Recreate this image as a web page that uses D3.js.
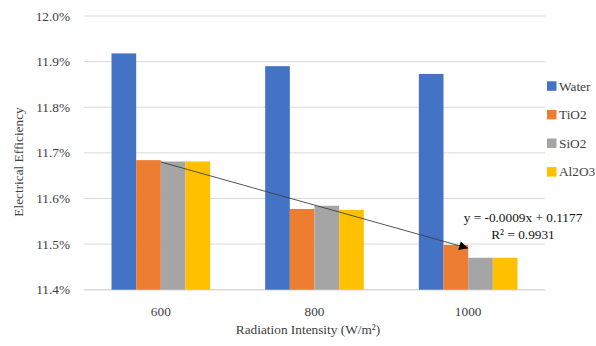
<!DOCTYPE html>
<html>
<head>
<meta charset="utf-8">
<script src="https://cdn.jsdelivr.net/npm/d3@7"></script>
<style>
  body { margin: 0; background: #fff; }
</style>
</head>
<body>
<script>
// chart values
var categories = [600, 800, 1000];
var seriesNames = ['Water', 'TiO2', 'SiO2', 'Al2O3'];
var seriesColors = ['#4472C4', '#ED7D31', '#A5A5A5', '#FFC000'];
var water = [11.918, 11.890, 11.873];
var tio2 = [11.684, 11.577, 11.498];
var sio2 = [11.681, 11.584, 11.470];
var al2o3 = [11.681, 11.575, 11.470];
var yTicks = [11.4, 11.5, 11.6, 11.7, 11.8, 11.9, 12.0];
var trendStart = { cat: 600, value: 11.680 };
var trendEnd = { cat: 1000, value: 11.491 };
var equation = ['y = -0.0009x + 0.1177', 'R² = 0.9931'];

var screen = { width: 596, height: 346 };
var margins = { top: 16, left: 84, right: 51, bottom: 56 };
var fontFamily = 'Liberation Serif';
var fontSize = 13.3;

var values = [water, tio2, sio2, al2o3];
var data = categories.map(function(c, i){
  return { cat: c, vals: seriesNames.map(function(s, j){ return { name: s, value: values[j][i], color: seriesColors[j] }; }) };
});

var svg = d3.select('body').append('svg')
            .attr('width', screen.width)
            .attr('height', screen.height);

var x0 = d3.scaleBand()
           .domain(categories)
           .range([margins.left, screen.width - margins.right])
           .paddingInner(0.358)
           .paddingOuter(0.179);
var x1 = d3.scaleBand()
           .domain(seriesNames)
           .range([0, x0.bandwidth()]);
var yScale = d3.scaleLinear()
               .domain([11.4, 12.0])
               .range([screen.height - margins.bottom - 0.3, margins.top]);

// gridlines
svg.append('g')
   .selectAll('line')
   .data(yTicks)
   .enter()
   .append('line')
   .attr('x1', margins.left)
   .attr('x2', screen.width - margins.right)
   .attr('y1', function(d){ return yScale(d); })
   .attr('y2', function(d){ return yScale(d); })
   .attr('stroke', '#d9d9d9')
   .attr('stroke-width', function(d, i){ return i == 0 ? 1.5 : 1; });

// y tick labels
svg.append('g')
   .selectAll('text')
   .data(yTicks)
   .enter()
   .append('text')
   .attr('x', 70)
   .attr('y', function(d){ return yScale(d) + 4.5; })
   .attr('text-anchor', 'end')
   .text(function(d){ return d.toFixed(1) + '%'; });

// bars
var groups = svg.selectAll('.group')
                .data(data)
                .enter()
                .append('g')
                .classed('group', true)
                .attr('transform', function(d){ return 'translate(' + x0(d.cat) + ',0)'; });
groups.selectAll('rect')
      .data(function(d){ return d.vals; })
      .enter()
      .append('rect')
      .attr('x', function(d){ return x1(d.name); })
      .attr('y', function(d){ return yScale(d.value); })
      .attr('width', x1.bandwidth())
      .attr('height', function(d){ return yScale(11.4) - yScale(d.value); })
      .attr('fill', function(d){ return d.color; });

// x tick labels
svg.append('g')
   .selectAll('text')
   .data(categories)
   .enter()
   .append('text')
   .attr('x', function(d){ return x0(d) + x0.bandwidth() / 2; })
   .attr('y', 315.5)
   .attr('text-anchor', 'middle')
   .text(function(d){ return d; });

// axis titles
svg.append('text')
   .attr('x', 308)
   .attr('y', 334)
   .attr('text-anchor', 'middle')
   .text('Radiation Intensity (W/m²)');

svg.append('text')
   .attr('transform', 'translate(23,162) rotate(-90)')
   .attr('text-anchor', 'middle')
   .text('Electrical Efficiency');

// trend arrow
svg.append('defs').append('marker')
   .attr('id', 'arrow')
   .attr('viewBox', '0 0 10 10')
   .attr('refX', 10)
   .attr('refY', 5)
   .attr('markerWidth', 10)
   .attr('markerHeight', 9)
   .attr('markerUnits', 'userSpaceOnUse')
   .attr('orient', 'auto')
   .append('path')
   .attr('d', 'M0,0 L10,5 L0,10 Z')
   .attr('fill', '#000');

svg.append('line')
   .attr('x1', x0(trendStart.cat) + x1('SiO2'))
   .attr('y1', yScale(trendStart.value))
   .attr('x2', x0(trendEnd.cat) + x1('SiO2'))
   .attr('y2', yScale(trendEnd.value))
   .attr('stroke', '#404040')
   .attr('stroke-width', 0.9)
   .attr('marker-end', 'url(#arrow)');

svg.append('g')
   .selectAll('text')
   .data(equation)
   .enter()
   .append('text')
   .classed('eq', true)
   .attr('x', 523)
   .attr('y', function(d, i){ return 222 + i * 16.5; })
   .attr('text-anchor', 'middle')
   .text(function(d){ return d; });

// legend
var legend = svg.append('g')
                .selectAll('g')
                .data(seriesNames)
                .enter()
                .append('g')
                .attr('transform', function(d, i){ return 'translate(547,' + (86 + i * 28.6) + ')'; });
legend.append('rect')
      .attr('x', 0)
      .attr('y', -4.7)
      .attr('width', 9.5)
      .attr('height', 9.5)
      .attr('fill', function(d, i){ return seriesColors[i]; });
legend.append('text')
      .attr('x', 12)
      .attr('y', 4.5)
      .text(function(d){ return d; });

// same font on every label
svg.selectAll('text')
   .style('font-family', "'" + fontFamily + "'")
   .attr('font-size', fontSize)
   .attr('fill', function(){ return d3.select(this).classed('eq') ? '#111' : '#404040'; });
</script>
</body>
</html>
